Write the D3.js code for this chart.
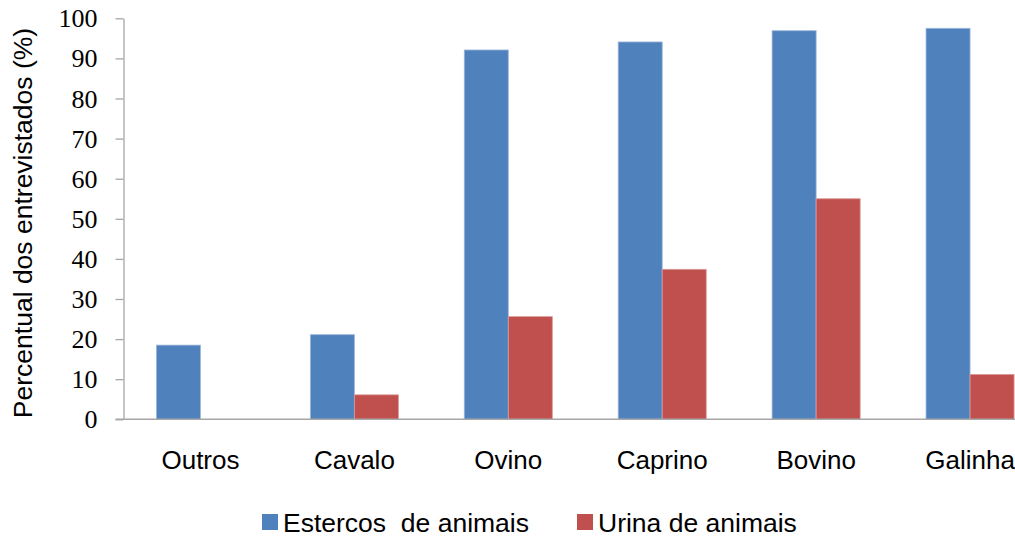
<!DOCTYPE html>
<html>
<head>
<meta charset="utf-8">
<script src="https://cdn.jsdelivr.net/npm/d3@7"></script>
<style>
  html, body { margin: 0; padding: 0; background: #fff; overflow: hidden; }
  svg { display: block; }
</style>
</head>
<body>
<svg id="chart" width="1015" height="540"></svg>
<script>
// Animal categories and the share of respondents (%) for each use
const categories = ["Outros", "Cavalo", "Ovino", "Caprino", "Bovino", "Galinha"];
const seriesNames = ["Estercos  de animais", "Urina de animais"];
const esterco = [18.5, 21.1, 92.1, 94.1, 96.9, 97.5];
const urina = [null, 6.1, 25.6, 37.4, 55.0, 11.2];
const yTicks = [0, 10, 20, 30, 40, 50, 60, 70, 80, 90, 100];
const colors = ["#4F81BD", "#C0504D"];

const seriesValues = [esterco, urina];

const svg = d3.select("#chart");
const axisColor = "#A6A6A6";
const sans = "Liberation Sans, Arial, sans-serif";
const serifFaces = ["Times New Roman", "Liberation Serif", "DejaVu Serif", "serif"];

const plotLeft = 123.5, plotRight = 1047, plotTop = 18.3, plotBottom = 419.3;

const x0 = d3.scaleBand()
  .domain(categories)
  .range([plotLeft, plotRight])
  .paddingInner(0.428)
  .paddingOuter(0.214);

const x1 = d3.scaleBand()
  .domain(seriesNames)
  .range([0, x0.bandwidth()]);

const y = d3.scaleLinear().domain([0, 100]).range([plotBottom, plotTop]);

// Bars
const groups = svg.append("g").selectAll("g")
  .data(categories)
  .join("g")
  .attr("transform", d => `translate(${x0(d)},0)`);

groups.selectAll("rect")
  .data((c, i) => seriesNames.map((s, k) => ({ s, k, v: seriesValues[k][i] })).filter(d => d.v != null))
  .join("rect")
  .attr("x", d => x1(d.s))
  .attr("y", d => y(d.v))
  .attr("width", x1.bandwidth())
  .attr("height", d => y(0) - y(d.v))
  .attr("fill", d => colors[d.k])
  .attr("stroke", d => d.k === 0 ? "#9DB7DA" : "#DA9A98")
  .attr("stroke-width", 0.8);

// Y axis
const yAxis = svg.append("g")
  .attr("transform", `translate(${plotLeft},0)`)
  .call(d3.axisLeft(y).tickValues(yTicks).tickSize(8).tickPadding(18).tickSizeOuter(0));
yAxis.attr("font-family", null).attr("font-size", null);
yAxis.select(".domain").attr("stroke", axisColor).attr("stroke-width", 1.3);
yAxis.selectAll(".tick line").attr("stroke", axisColor).attr("stroke-width", 1.3);
yAxis.selectAll(".tick text")
  .attr("fill", "#000")
  .attr("font-family", serifFaces.join(", "))
  .attr("font-size", 26)
  .attr("dy", "0.33em");

// X axis line and category labels
const xAxis = svg.append("g")
  .attr("transform", `translate(0,${plotBottom})`)
  .call(d3.axisBottom(x0).tickSize(0).tickPadding(0).tickSizeOuter(0));
xAxis.attr("font-family", sans).attr("font-size", 26);
xAxis.select(".domain").remove();
xAxis.append("line")
  .attr("x1", plotLeft - 8).attr("x2", plotRight)
  .attr("stroke", axisColor).attr("stroke-width", 1.5);
xAxis.selectAll(".tick text")
  .attr("fill", "#000")
  .attr("y", 50)
  .attr("dy", 0);

// Y axis title
svg.append("text")
  .attr("transform", "translate(31.5,223) rotate(-90)")
  .attr("text-anchor", "middle")
  .attr("font-family", sans)
  .attr("font-size", 26.5)
  .attr("fill", "#000")
  .text("Percentual dos entrevistados (%)");

// Legend
const legendX = [262, 577];
const legend = svg.append("g").selectAll("g")
  .data(seriesNames)
  .join("g")
  .attr("transform", (d, i) => `translate(${legendX[i]},514)`);
legend.append("rect")
  .attr("width", 16).attr("height", 16)
  .attr("fill", (d, i) => colors[i]);
legend.append("text")
  .attr("x", 21).attr("y", 18)
  .attr("font-family", sans)
  .attr("font-size", 26.5)
  .attr("fill", "#000")
  .style("white-space", "pre")
  .text(d => d);
</script>
</body>
</html>
